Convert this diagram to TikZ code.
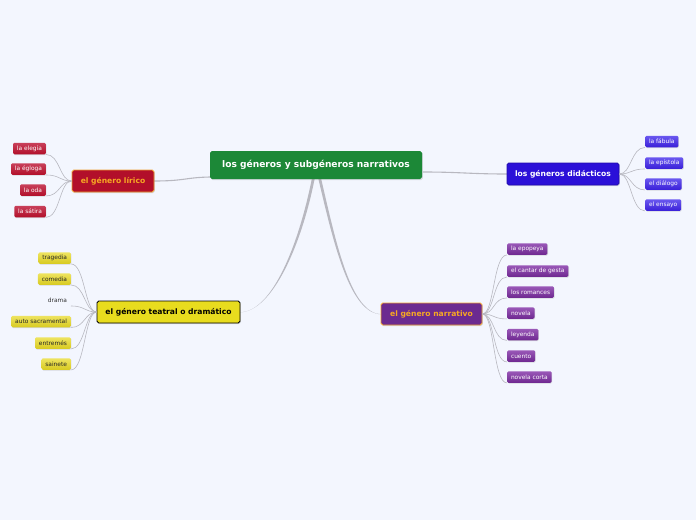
\documentclass[tikz,border=0pt]{standalone}
\usepackage{fontspec}
\setsansfont{DejaVu Sans}
\usetikzlibrary{shadows}
\definecolor{bg}{HTML}{F3F6FE}
\definecolor{linec}{HTML}{B8B8C0}
\definecolor{cgreen}{HTML}{1C8837}
\definecolor{lirred}{HTML}{B20F2A}
\definecolor{lirredtop}{HTML}{C8405A}
\definecolor{orng}{HTML}{F0A030}
\definecolor{orngtxt}{HTML}{F7A823}
\definecolor{dblue}{HTML}{2B10D8}
\definecolor{dbluetop}{HTML}{6A58F0}
\definecolor{dbluebot}{HTML}{3A20D8}
\definecolor{tyel}{HTML}{E8DC1E}
\definecolor{tyeltop}{HTML}{EEE460}
\definecolor{tyelbot}{HTML}{D8CA20}
\definecolor{npur}{HTML}{6B2A90}
\definecolor{npurtop}{HTML}{9A58B8}
\definecolor{npurbot}{HTML}{6E2890}
\tikzset{
  box/.style={rounded corners=1.8pt, inner sep=0pt, align=center, anchor=center,
    drop shadow={shadow xshift=0.8pt, shadow yshift=-1pt, opacity=0.25}},
  central/.style={box, fill=cgreen, text=white, font=\sffamily\bfseries\fontsize{9.1}{10}\selectfont,
    minimum width=212pt, minimum height=28pt},
  main/.style={box, font=\sffamily\bfseries\fontsize{7.6}{8.5}\selectfont, minimum height=22pt, line width=0.8pt},
  child/.style={rounded corners=1.3pt, inner xsep=3.8pt, inner ysep=0pt, minimum height=11.5pt,
    font=\sffamily\fontsize{5.9}{6.5}\selectfont,
    drop shadow={shadow xshift=0.6pt, shadow yshift=-0.8pt, opacity=0.25}},
  lchild/.style={child, top color=lirredtop, bottom color=lirred, text=white, anchor=east},
  dchild/.style={child, top color=dbluetop, bottom color=dbluebot, text=white, anchor=west},
  tchild/.style={child, top color=tyeltop, bottom color=tyelbot, text=black!85, anchor=east},
  nchild/.style={child, top color=npurtop, bottom color=npurbot, text=white, anchor=west},
  conn/.style={draw=linec, line width=0.6pt},
  mconn/.style={draw=linec, line width=1.1pt},
}
\begin{document}
\begin{tikzpicture}[x=1pt,y=-1pt]
\fill[bg] (0,0) rectangle (696,520);
\useasboundingbox (0,0) rectangle (696,520);

% coordinates on the central topic
\coordinate (cL) at (210,177);
\coordinate (cR) at (423,172);
\coordinate (cB1a) at (311.8,179);
\coordinate (cB1b) at (314.6,179);
\coordinate (cB2a) at (318.4,179);
\coordinate (cB2b) at (321.2,179);

% main connectors (drawn first)
\fill[linec] (cB1a) .. controls (298.5,245) and (272,312) .. (240,312.3)
  .. controls (272.5,311.5) and (301.5,245) .. (cB1b) -- cycle;
\fill[linec] (cB2a) .. controls (334,245) and (350,314) .. (381.5,314.3)
  .. controls (351,313.5) and (336.5,245) .. (cB2b) -- cycle;
\draw[mconn] (154,181) .. controls (185,181) and (185,177.5) .. (cL);
\draw[mconn] (cR) .. controls (460,172) and (470,174) .. (507,174);

% central
\node[central] (root) at (316,165) {los géneros y subgéneros narrativos};

% main topics
\node[main, fill=lirred, draw=orng, text=orngtxt, minimum width=82pt] (lir) at (113,181) {el género lírico};
\node[main, fill=dblue, draw=dblue!80!black, text=white, minimum width=112pt] (did) at (563,174) {los géneros didácticos};
\node[main, fill=tyel, draw=black, text=black, minimum width=143pt] (tea) at (168.5,312) {el género teatral o dramático};
\node[main, fill=npur, draw=orng, text=orngtxt, minimum width=101pt] (nar) at (431.5,314) {el género narrativo};

% lirico children
\node[lchild] (l1) at (46,148.5) {la elegía};
\node[lchild] (l2) at (46,169) {la égloga};
\node[lchild] (l3) at (46,190) {la oda};
\node[lchild] (l4) at (46,211.5) {la sátira};
\foreach \c in {l1,l2,l3,l4}
  \draw[conn] (\c.south east) .. controls +(14,0) and +(-12,0) .. (lir.west);

% didacticos children
\node[dchild] (d1) at (645,141.5) {la fábula};
\node[dchild] (d2) at (645,163) {la epístola};
\node[dchild] (d3) at (645,184) {el diálogo};
\node[dchild] (d4) at (645,205) {el ensayo};
\foreach \c in {d1,d2,d3,d4}
  \draw[conn] (did.east) .. controls +(12,0) and +(-14,0) .. (\c.south west);

% teatral children
\node[tchild] (t1) at (71,258) {tragedia};
\node[tchild] (t2) at (71,279) {comedia};
\node[anchor=east, inner xsep=3.8pt, inner ysep=0pt, minimum height=11.5pt,
  font=\sffamily\fontsize{5.9}{6.5}\selectfont, text=black!80] (t3) at (71,300) {drama};
\node[tchild] (t4) at (71,321.5) {auto sacramental};
\node[tchild] (t5) at (71,343) {entremés};
\node[tchild] (t6) at (71,364) {sainete};
\foreach \c in {t1,t2,t3,t4,t5,t6}
  \draw[conn] (\c.south east) .. controls +(14,0) and +(-12,0) .. (tea.west);

% narrativo children
\node[nchild] (n1) at (507,249) {la epopeya};
\node[nchild] (n2) at (507,271) {el cantar de gesta};
\node[nchild] (n3) at (507,292) {los romances};
\node[nchild] (n4) at (507,313) {novela};
\node[nchild] (n5) at (507,334.5) {leyenda};
\node[nchild] (n6) at (507,356) {cuento};
\node[nchild] (n7) at (507,377) {novela corta};
\foreach \c in {n1,n2,n3,n4,n5,n6,n7}
  \draw[conn] (nar.east) .. controls +(12,0) and +(-14,0) .. (\c.south west);
\end{tikzpicture}
\end{document}
